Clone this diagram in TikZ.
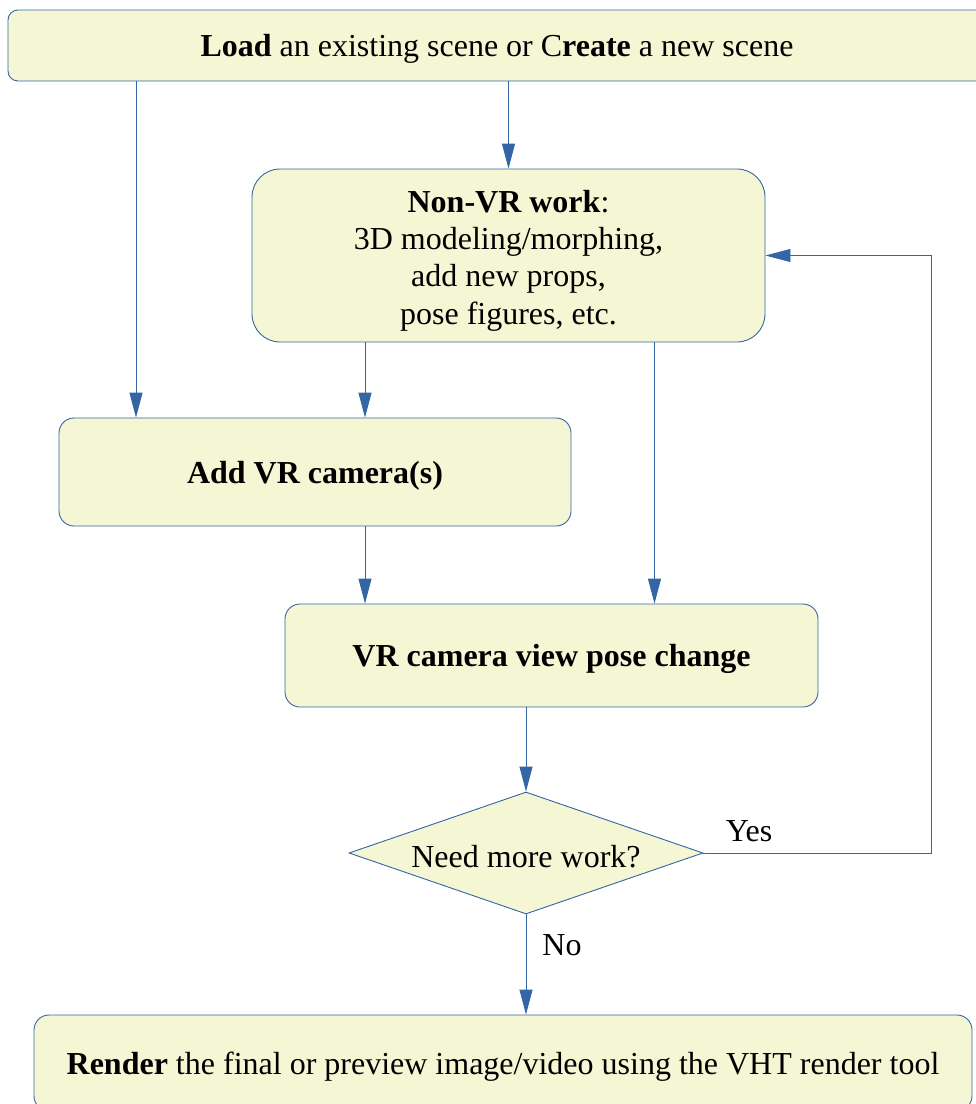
\documentclass[tikz,border=0pt]{standalone}
\usepackage{fontspec}
\setmainfont{Liberation Serif}
\usepackage{xcolor}
\definecolor{PaleLime}{HTML}{F5F7D4}
\definecolor{SteelBlue}{HTML}{3465A4}
\usepackage{tikz}
\usetikzlibrary{arrows.meta, shapes.geometric}

\begin{document}
\begin{tikzpicture}[x=1pt, y=-1pt,
  box/.style={rectangle, rounded corners=#1, draw=SteelBlue, fill=PaleLime,
    line width=0.9pt, align=center, inner sep=0pt,
    font=\fontsize{32}{37.3}\selectfont},
  box/.default=15pt,
  choice/.style={diamond, aspect=2.9, draw=SteelBlue, fill=PaleLime,
    line width=0.9pt, inner sep=3pt, minimum width=354pt, minimum height=122pt,
    font=\fontsize{32}{37.3}\selectfont},
  flow/.style={-{Triangle[length=25pt, width=13pt]}, draw=SteelBlue, line width=0.9pt},
  lbl/.style={font=\fontsize{32}{37.3}\selectfont, inner sep=2pt},
]
\useasboundingbox (0,0) rectangle (976,1104);
\clip (0,0) rectangle (976,1104);

%% -- Steps --------------------------------------------
\node[box=10pt, text depth=0pt, minimum width=978pt, minimum height=71pt] (load) at (497,45.5)
  {\textbf{Load} an existing scene or C\textbf{reate} a new scene};

\node[box=28pt, minimum width=513pt, minimum height=173pt] (nonvr) at (508.5,255.5)
  {\rule{0pt}{32pt}\textbf{Non-VR work}:\\3D modeling/morphing,\\add new props,\\pose figures, etc.};

\node[box, text depth=0pt, minimum width=512pt, minimum height=108pt] (addcam) at (315,472)
  {\textbf{Add VR camera(s)}};

\node[box, text depth=0pt, minimum width=533pt, minimum height=103pt] (view) at (551.5,655.5)
  {\textbf{VR camera view pose change}};

\node[choice, text height=28pt, text depth=0pt] (more) at (526,853) {Need more work?};

\node[box, text depth=0pt, minimum width=938pt, minimum height=96pt] (render) at (503,1063)
  {\textbf{Render} the final or preview image/video using the VHT render tool};

%% -- Connectors ---------------------------------------
\draw[flow] ([xshift=-179pt]addcam.north |- load.south) -- ([xshift=-179pt]addcam.north);
\draw[flow] (nonvr.north |- load.south) -- (nonvr.north);
\draw[flow] ([xshift=50pt]addcam.north |- nonvr.south) -- ([xshift=50pt]addcam.north);
\draw[flow] ([xshift=50pt]addcam.south) -- ([xshift=50pt]addcam.south |- view.north);
\draw[flow] ([xshift=146pt]nonvr.south) -- ([xshift=146pt]nonvr.south |- view.north);
\draw[flow] (view.south -| more.north) -- (more.north);
\draw[flow] (more.south) -- node[lbl, pos=0.31, anchor=west, xshift=14pt]{No} (more.south |- render.north);
\draw[flow] (more.east) -- node[lbl, pos=0.2, anchor=south, yshift=9pt]{Yes} ++(228,0) |- (nonvr.east);

\end{tikzpicture}
\end{document}
